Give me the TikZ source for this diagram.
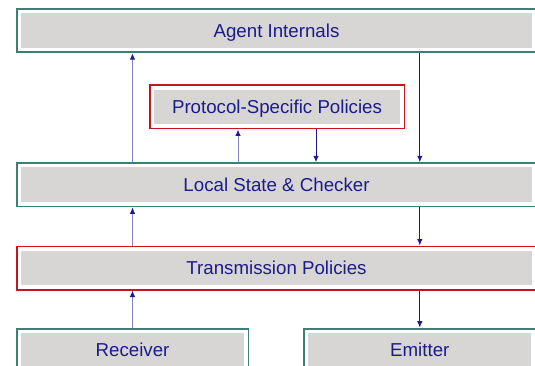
\documentclass[tikz,border=0pt]{standalone}
\usepackage{fontspec}
\setmainfont{Liberation Sans}
\usetikzlibrary{arrows.meta, positioning}

\definecolor{frameteal}{HTML}{3D7F77}
\definecolor{framered}{HTML}{C4161C}
\definecolor{boxgray}{HTML}{D8D6D4}
\definecolor{labelnavy}{HTML}{1B1B8C}
\definecolor{lavender}{HTML}{8383C9}

\begin{document}
\begin{tikzpicture}[
  x=1pt, y=-1pt,
  layer/.style={fill=boxgray, draw=white, line width=3.4pt,
    preaction={draw=#1, line width=7pt},
    minimum height=38pt, inner sep=0pt, outer sep=3.5pt,
    text height=13.3pt, text depth=0pt,
    text=labelnavy, font=\fontsize{18.7}{22}\selectfont},
  layer/.default=frameteal,
  upflow/.style={draw=lavender, line width=1pt,
    -{Latex[length=6.5pt, width=5.5pt, color=labelnavy]}},
  downflow/.style={draw=labelnavy, line width=1pt,
    -{Latex[length=6.5pt, width=5.5pt]}},
]
\useasboundingbox (0,0) rectangle (535,366);
\clip (0,0) rectangle (535,366);

% Layers
\node[layer, minimum width=514.6pt] (agent) at (276.5,30.75) {Agent Internals};
\node[layer=framered, minimum width=249.6pt] (proto) at (277,107) {Protocol-Specific Policies};
\node[layer, minimum width=514.6pt] (local) at (276.5,184.8) {Local State \& Checker};
\node[layer=framered, minimum width=514.6pt] (trans) at (276.5,268) {Transmission Policies};
\node[layer, minimum width=226.6pt] (recv) at (132.5,350.2) {Receiver};
\node[layer, minimum width=226.6pt, right=53.7pt of recv] (emit) {Emitter};

% Flows
\draw[upflow] (recv.north) -- (recv.north |- trans.south);
\draw[downflow] (trans.south -| emit) -- (emit.north);
\draw[upflow] (trans.north -| recv) -- (local.south -| recv);
\draw[downflow] (local.south -| emit) -- (trans.north -| emit);
\draw[upflow] (local.north -| recv) -- (agent.south -| recv);
\draw[downflow] (agent.south -| emit) -- (local.north -| emit);
\draw[upflow] ([xshift=-39pt]proto.south |- local.north) -- ([xshift=-39pt]proto.south);
\draw[downflow] ([xshift=39pt]proto.south) -- ([xshift=39pt]proto.south |- local.north);
\end{tikzpicture}
\end{document}
